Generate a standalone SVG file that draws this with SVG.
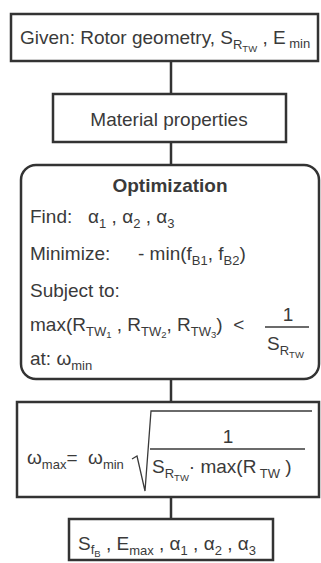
<svg xmlns="http://www.w3.org/2000/svg" width="321" height="563" viewBox="0 0 321 563">
<style>
.box{fill:#fff;stroke:#333;stroke-width:2.5}
.ln{stroke:#333;stroke-width:2.5;fill:none}
text{font-family:"Liberation Sans",Arial,sans-serif;font-size:19px;fill:#3a3a3a;white-space:pre}
.b{font-weight:bold}
.s{font-size:13px}
.ss{font-size:9.5px}
.frac{stroke:#3a3a3a;stroke-width:1.3;fill:none}
</style>
<rect width="321" height="563" fill="#fff"/>
<g id="connectors">
<line class="ln" x1="171" y1="61" x2="171" y2="94"/>
<line class="ln" x1="171" y1="142" x2="171" y2="165"/>
<line class="ln" x1="171" y1="379" x2="171" y2="402"/>
<line class="ln" x1="171" y1="497" x2="171" y2="519"/>
</g>
<g id="given">
<rect class="box" x="11" y="14" width="307" height="47"/>
<text x="20" y="44">Given: Rotor geometry, S<tspan class="s" dy="5">R</tspan><tspan class="ss" dy="3">TW</tspan><tspan dy="-8"> , E</tspan><tspan class="s" dy="4"> min</tspan></text>
</g>
<g id="material">
<rect class="box" x="53" y="94" width="233" height="48"/>
<text x="169" y="126" text-anchor="middle">Material properties</text>
</g>
<g id="optimization">
<rect class="box" x="21" y="165" width="298" height="214" rx="15"/>
<text class="b" x="170" y="192" text-anchor="middle">Optimization</text>
<text x="30" y="223">Find:   α<tspan class="s" dy="5">1</tspan><tspan dy="-5"> , α</tspan><tspan class="s" dy="5">2</tspan><tspan dy="-5"> , α</tspan><tspan class="s" dy="5">3</tspan></text>
<text x="30" y="260">Minimize:<tspan x="138">- min(f</tspan><tspan class="s" dy="5">B1</tspan><tspan dy="-5">, f</tspan><tspan class="s" dy="5">B2</tspan><tspan dy="-5">)</tspan></text>
<text x="30" y="297">Subject to:</text>
<text x="30" y="331">max(R<tspan class="s" dy="5">TW</tspan><tspan class="ss" dy="2">1</tspan><tspan dy="-7"> , R</tspan><tspan class="s" dy="5">TW</tspan><tspan class="ss" dy="2">2</tspan><tspan dy="-7">, R</tspan><tspan class="s" dy="5">TW</tspan><tspan class="ss" dy="2">3</tspan><tspan dy="-7">)  &lt;</tspan></text>
<text x="288" y="321" text-anchor="middle">1</text>
<line class="frac" x1="265" y1="327" x2="309" y2="327"/>
<text x="267" y="350">S<tspan class="s" dy="5">R</tspan><tspan class="ss" dy="3">TW</tspan></text>
<text x="30" y="365">at: ω<tspan class="s" dy="5">min</tspan></text>
</g>
<g id="omega">
<rect class="box" x="17" y="402" width="302" height="95"/>
<text x="27" y="464">ω<tspan class="s" dy="5">max</tspan><tspan dy="-5">=  ω</tspan><tspan class="s" dy="5">min</tspan></text>
<path class="frac" d="M132,459 L137,456 L145,491 L151,411 L312,411"/>
<text x="228" y="443" text-anchor="middle">1</text>
<line class="frac" x1="150" y1="449" x2="305" y2="449"/>
<text x="152" y="473">S<tspan class="s" dy="5">R</tspan><tspan class="ss" dy="3">TW</tspan><tspan dy="-8">· max(R</tspan><tspan class="s" dy="5"> TW</tspan><tspan dy="-5"> )</tspan></text>
</g>
<g id="result">
<rect class="box" x="69" y="519" width="204" height="41"/>
<text x="78" y="550">S<tspan class="s" dy="4">f</tspan><tspan class="ss" dy="3">B</tspan><tspan dy="-7"> , E</tspan><tspan class="s" dy="5">max</tspan><tspan dy="-5"> , α</tspan><tspan class="s" dy="5">1</tspan><tspan dy="-5"> , α</tspan><tspan class="s" dy="5">2</tspan><tspan dy="-5"> , α</tspan><tspan class="s" dy="5">3</tspan></text>
</g>
</svg>
